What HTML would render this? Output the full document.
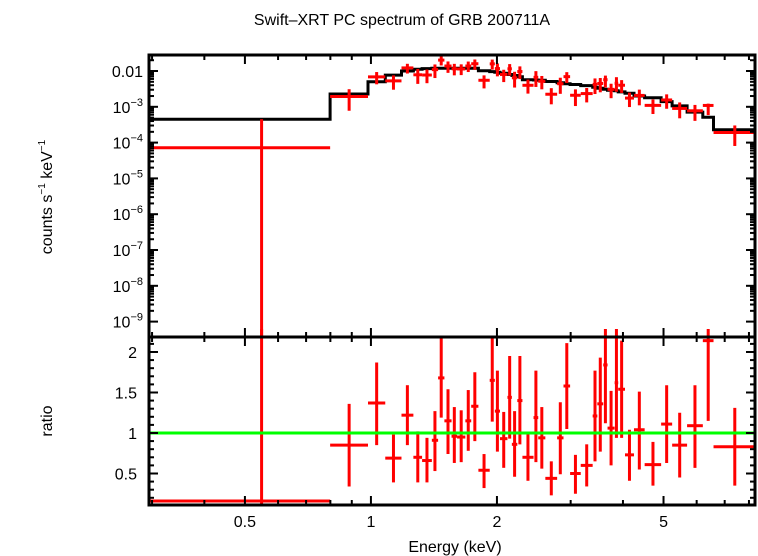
<!DOCTYPE html>
<html><head><meta charset="utf-8">
<style>
html,body{margin:0;padding:0;background:#fff;}
svg{display:block;font-family:"Liberation Sans","DejaVu Sans",sans-serif;}
</style></head>
<body>
<svg id="chart" width="758" height="556" viewBox="0 0 758 556" xmlns="http://www.w3.org/2000/svg">
<text x="402" y="25" font-size="16" text-anchor="middle">Swift–XRT PC spectrum of GRB 200711A</text>
<text transform="translate(52,197) rotate(-90)" font-size="16" text-anchor="middle">counts s<tspan font-size="10" dy="-7">−1</tspan><tspan dy="7"> keV</tspan><tspan font-size="10" dy="-7">−1</tspan></text>
<text transform="translate(52,421) rotate(-90)" font-size="16" text-anchor="middle">ratio</text>
<text x="455" y="552" font-size="16" text-anchor="middle">Energy (keV)</text>
<g id="gTop"></g>
<g id="gBot"></g>
</svg>
<script>
// bin edges (keV)
const binLo = [0.295,0.799,0.984,1.082,1.183,1.263,1.325,1.398,1.447,1.498,1.558,1.606,1.681,1.736,1.806,1.922,1.977,2.034,2.119,2.171,2.237,2.301,2.446,2.510,2.610,2.785,2.884,2.991,3.171,3.386,3.474,3.589,3.675,3.821,3.897,4.045,4.250,4.507,4.935,5.243,5.692,6.207,6.583];
const binHi = [0.799,0.984,1.082,1.183,1.263,1.325,1.398,1.447,1.498,1.558,1.606,1.681,1.736,1.806,1.922,1.977,2.034,2.119,2.171,2.237,2.301,2.446,2.510,2.610,2.785,2.884,2.991,3.171,3.386,3.474,3.589,3.675,3.821,3.897,4.045,4.250,4.507,4.935,5.243,5.692,6.207,6.583,8.32];
// bin centre energy (keV)
const binMid = [0.548,0.887,1.032,1.132,1.222,1.294,1.361,1.422,1.472,1.528,1.582,1.643,1.708,1.771,1.863,1.949,2.005,2.076,2.145,2.204,2.269,2.372,2.478,2.56,2.697,2.834,2.937,3.08,3.277,3.43,3.531,3.632,3.747,3.859,3.971,4.146,4.377,4.718,5.087,5.465,5.944,6.393,7.4];
// folded model (counts/s/keV)
const model = [4.5e-4,2.28e-3,5.0e-3,7.7e-3,1.0e-2,1.12e-2,1.17e-2,1.2e-2,1.2e-2,1.2e-2,1.2e-2,1.2e-2,1.2e-2,1.2e-2,1.02e-2,9.6e-3,9.2e-3,8.6e-3,8.0e-3,7.5e-3,6.9e-3,5.7e-3,5.6e-3,5.5e-3,5.1e-3,4.7e-3,4.4e-3,4.2e-3,3.9e-3,3.5e-3,3.3e-3,3.1e-3,2.9e-3,2.8e-3,2.6e-3,2.4e-3,2.0e-3,1.8e-3,1.4e-3,1.06e-3,7.1e-4,5.1e-4,2.3e-4];
// data/model ratio and its error range
const ratio = [0.16,0.85,1.37,0.69,1.22,0.70,0.66,0.91,1.68,1.15,0.96,0.95,1.15,1.33,0.54,1.65,1.27,0.93,1.44,0.86,1.40,0.70,1.19,0.94,0.44,0.94,1.58,0.50,0.60,1.21,1.36,1.84,1.06,1.62,1.54,0.73,1.04,0.61,1.11,0.85,1.09,2.14,0.83];
const ratioLo = [0.0,0.34,0.85,0.39,0.85,0.39,0.39,0.53,1.19,0.74,0.63,0.64,0.78,0.90,0.32,1.14,0.77,0.57,0.93,0.46,0.86,0.41,0.64,0.56,0.23,0.49,1.05,0.25,0.34,0.65,0.77,1.12,0.60,0.94,0.94,0.41,0.55,0.35,0.63,0.45,0.57,1.15,0.35];
const ratioHi = [5.0,1.36,1.87,0.98,1.59,1.02,0.94,1.27,2.17,1.54,1.32,1.28,1.53,1.75,0.74,2.17,1.77,1.26,1.95,1.27,1.95,1.01,1.77,1.32,0.65,1.38,2.11,0.73,0.86,1.77,1.93,2.4,1.52,2.4,2.14,1.04,1.51,0.89,1.59,1.25,1.59,2.4,1.31];
// upper count error for first bin as drawn in spectrum panel (counts/s/keV)
const firstBinCountsHi = [4.5e-4];
const xTicksMajor = [0.5,1,2,5];
const xTickLabels = ["0.5","1","2","5"];
const xTicksMinor = [0.3,0.4,0.6,0.7,0.8,0.9,3,4,6,7,8];
const yTopDecades = [-9,-8,-7,-6,-5,-4,-3,-2];
const yBotMajor = [0.5,1,1.5,2];
const yBotLabels = ["0.5","1","1.5","2"];

const NS="http://www.w3.org/2000/svg";
const L=149,R=755,T1=55,B1=337,T2=337,B2=505;
const xMin=0.295,xMax=8.27, yTopMin=-9.43,yTopMax=-1.553, rMin=0.111,rMax=2.185;
function X(e){return L+(Math.log10(e)-Math.log10(xMin))/(Math.log10(xMax)-Math.log10(xMin))*(R-L);}
function YT(v){const lv=Math.log10(Math.max(v,1e-12));return B1-(lv-yTopMin)/(yTopMax-yTopMin)*(B1-T1);}
function YB(r){return B2-(r-rMin)/(rMax-rMin)*(B2-T2);}
function clamp(v,a,b){return Math.max(a,Math.min(b,v));}
function mk(parent,tag,attrs){const e=document.createElementNS(NS,tag);for(const k in attrs)e.setAttribute(k,attrs[k]);parent.appendChild(e);return e;}
const gT=document.getElementById('gTop'), gB=document.getElementById('gBot');
const svg=document.getElementById('chart');

const defs=mk(svg,'defs',{});
const c1=mk(defs,'clipPath',{id:'c1'});mk(c1,'rect',{x:L,y:T1,width:R-L,height:B1-T1});
const c2=mk(defs,'clipPath',{id:'c2'});mk(c2,'rect',{x:L,y:T2-8,width:R-L,height:B2-T2+8});
const dT=mk(gT,'g',{'clip-path':'url(#c1)'});
const dB=mk(gB,'g',{'clip-path':'url(#c2)'});

let p='';
for(let i=0;i<model.length;i++){const x0=X(binLo[i]),x1=X(binHi[i]),y=YT(model[i]);p+=(i===0?'M':'L')+x0.toFixed(1)+','+y.toFixed(1)+'L'+x1.toFixed(1)+','+y.toFixed(1);}
const ml=mk(dT,'path',{d:p,fill:'none',stroke:'#000','stroke-width':3});



for(let i=0;i<model.length;i++){
  const xm=X(binMid[i]),x0=X(binLo[i]),x1=X(binHi[i]);
  const yd=YT(model[i]*ratio[i]),ylo=YT(model[i]*Math.max(ratioLo[i],1e-9));
  const yhi=(i===0)?YT(firstBinCountsHi[0]):YT(model[i]*ratioHi[i]);
  const g=mk(dT,'g',{stroke:'#f00','stroke-width':3});
  
  
  mk(g,'line',{x1:x0,x2:x1,y1:yd,y2:yd});
  mk(g,'line',{x1:xm,x2:xm,y1:clamp(ylo,T1,B1+5),y2:clamp(yhi,T1-5,B1)});
  const yr=YB(ratio[i]),rl=YB(ratioLo[i]),rh=YB(ratioHi[i]);
  const g2=mk(dB,'g',{stroke:'#f00','stroke-width':3});
  
  
  mk(g2,'line',{x1:x0,x2:x1,y1:yr,y2:yr});
  mk(g2,'line',{x1:xm,x2:xm,y1:clamp(rl,T2-8,B2+5),y2:clamp(rh,T2-8,B2+5)});
}
const ul=mk(dB,'line',{x1:L,x2:R,y1:YB(1),y2:YB(1),stroke:'#0f0','stroke-width':3});



function tick(g,x1,y1,x2,y2){mk(g,'line',{x1:x1,y1:y1,x2:x2,y2:y2,stroke:'#000','stroke-width':2});}
const tk=mk(svg,'g',{});


xTicksMajor.forEach(e=>{const x=X(e);[[T1,1],[B1,-1],[T2,1],[B2,-1]].forEach(([y,s])=>tick(tk,x,y,x,y+s*9));});
xTicksMinor.forEach(e=>{const x=X(e);[[T1,1],[B1,-1],[T2,1],[B2,-1]].forEach(([y,s])=>tick(tk,x,y,x,y+s*5));});
yTopDecades.forEach(d=>{
  const y=YT(Math.pow(10,d));
  if(y>T1&&y<B1){tick(tk,L,y,L+9,y);tick(tk,R,y,R-9,y);}
  for(let m=2;m<10;m++){const ym=YT(m*Math.pow(10,d));if(ym>T1&&ym<B1){tick(tk,L,ym,L+5,ym);tick(tk,R,ym,R-5,ym);}}
});
for(let r=0.2;r<2.19;r+=0.1){const y=YB(r);const maj=Math.abs(r*2-Math.round(r*2))<1e-6;const len=maj?9:5;tick(tk,L,y,L+len,y);tick(tk,R,y,R-len,y);}

const f1=mk(svg,'rect',{x:L,y:T1,width:R-L,height:B1-T1,fill:'none',stroke:'#000','stroke-width':3});


const f2=mk(svg,'rect',{x:L,y:T2,width:R-L,height:B2-T2,fill:'none',stroke:'#000','stroke-width':3});



xTicksMajor.forEach((e,i)=>{const t=mk(svg,'text',{x:X(e),y:527,'font-size':16,'text-anchor':'middle'});t.textContent=xTickLabels[i];

});
yTopDecades.forEach(d=>{
  const y=YT(Math.pow(10,d));
  const t=mk(svg,'text',{x:143,y:y+6,'font-size':16,'text-anchor':'end'});
  
  
  if(d===-2){t.textContent='0.01';}
  else{const a=document.createElementNS(NS,'tspan');a.textContent='10';t.appendChild(a);const b=document.createElementNS(NS,'tspan');b.setAttribute('font-size','11');b.setAttribute('dy','-7');b.textContent='−'+(-d);t.appendChild(b);}
});
yBotMajor.forEach((r,i)=>{const t=mk(svg,'text',{x:137,y:YB(r)+6,'font-size':16,'text-anchor':'end'});t.textContent=yBotLabels[i];

});
</script>
</body></html>
